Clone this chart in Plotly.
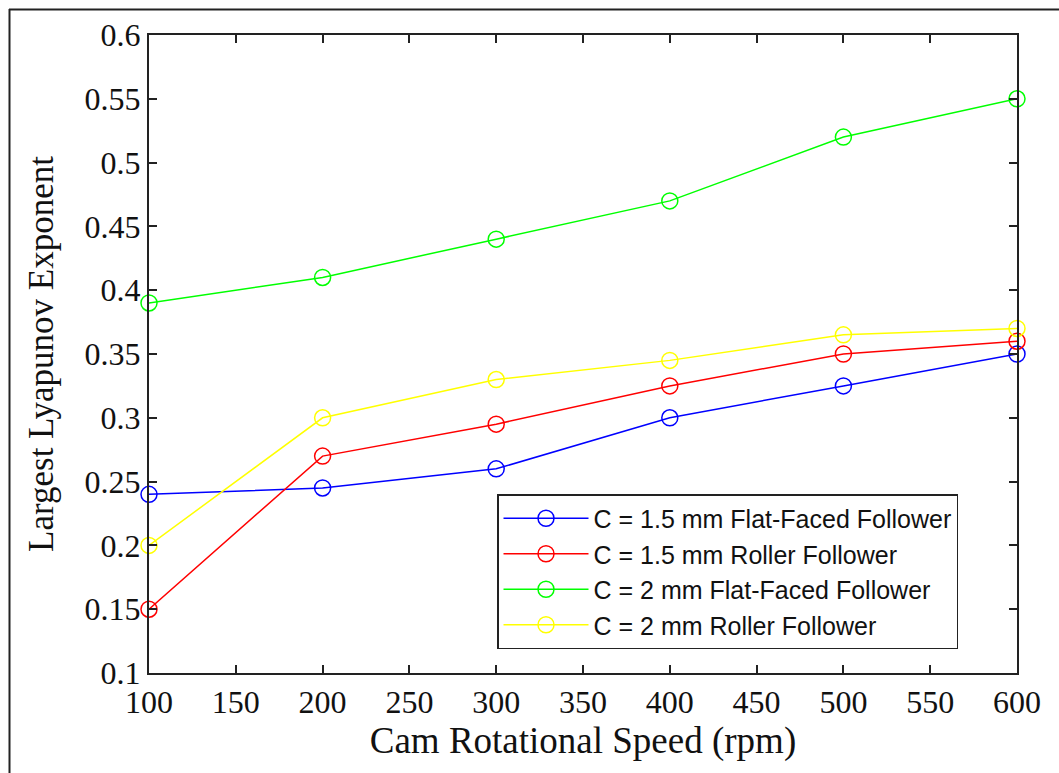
import plotly.graph_objects as go

# Cam speed (rpm) and largest Lyapunov exponent for each cam/follower setup
speed_rpm = [100, 200, 300, 400, 500, 600]

lle_c15_flat = [0.24, 0.245, 0.26, 0.30, 0.325, 0.35]
lle_c15_roller = [0.15, 0.27, 0.295, 0.325, 0.35, 0.36]
lle_c2_flat = [0.39, 0.41, 0.44, 0.47, 0.52, 0.55]
lle_c2_roller = [0.20, 0.30, 0.33, 0.345, 0.365, 0.37]

series_names = [
    "C = 1.5 mm Flat-Faced Follower",
    "C = 1.5 mm Roller Follower",
    "C = 2 mm Flat-Faced Follower",
    "C = 2 mm Roller Follower",
]
series_values = [lle_c15_flat, lle_c15_roller, lle_c2_flat, lle_c2_roller]
series_colors = ["#0000ff", "#ff0000", "#00ff00", "#ffff00"]

x_ticks = [100, 150, 200, 250, 300, 350, 400, 450, 500, 550, 600]
y_ticks = [0.1, 0.15, 0.2, 0.25, 0.3, 0.35, 0.4, 0.45, 0.5, 0.55, 0.6]
y_tick_text = ["0.1", "0.15", "0.2", "0.25", "0.3", "0.35", "0.4", "0.45", "0.5", "0.55", "0.6"]

W, H = 1059, 773
ML, MR, MT, MB = 149, 42, 35, 100
PW, PH = W - ML - MR, H - MT - MB

fig = go.Figure()
for i, (name, vals, col) in enumerate(zip(series_names, series_values, series_colors)):
    fig.add_trace(go.Scatter(
        x=speed_rpm, y=vals, name=name, mode="lines+markers",
        legendgroup=f"g{i}",
        line=dict(color=col, width=1.5),
        marker=dict(symbol="circle-open", size=16, color=col, line=dict(width=1.5, color=col)),
        cliponaxis=False,
    ))

serif = "Liberation Serif, Times New Roman, serif"
axis_common = dict(
    showline=True, linecolor="#222222", linewidth=2, mirror="ticks",
    ticks="inside", ticklen=8, tickwidth=1.5, tickcolor="#222222",
    showgrid=False, zeroline=False,
    tickfont=dict(family=serif, size=32, color="#111111"),
)

fig.update_xaxes(
    range=[100, 600], tickvals=x_ticks, ticktext=[str(v) for v in x_ticks],
    title=dict(text="Cam Rotational Speed (rpm)", font=dict(family=serif, size=37, color="#111111"), standoff=8),
    **axis_common,
)
fig.update_yaxes(
    range=[0.1, 0.6], tickvals=y_ticks, ticktext=y_tick_text,
    title=dict(text="Largest Lyapunov Exponent", font=dict(family=serif, size=35, color="#111111"), standoff=20),
    **axis_common,
)

def px_x(px):
    return (px - ML) / PW

def px_y(py):
    return (H - MB - py) / PH

# outer frame lines along the left and top
fig.add_shape(type="line", xref="paper", yref="paper",
              x0=px_x(9.5), x1=px_x(9.5), y0=px_y(9), y1=px_y(H + 5),
              line=dict(color="#222222", width=2))
fig.add_shape(type="line", xref="paper", yref="paper",
              x0=px_x(9), x1=px_x(W + 5), y0=px_y(9.5), y1=px_y(9.5),
              line=dict(color="#222222", width=2))

fig.update_layout(
    width=W, height=H,
    margin=dict(l=ML, r=MR, t=MT, b=MB, autoexpand=False),
    paper_bgcolor="white", plot_bgcolor="white",
    showlegend=True,
    legend=dict(
        x=px_x(497), y=px_y(494), xanchor="left", yanchor="top",
        bgcolor="white", bordercolor="#222222", borderwidth=1.5,
        font=dict(family="Liberation Sans, Arial, sans-serif", size=25, color="#111111"),
        itemwidth=85, tracegroupgap=0,
    ),
)

fig.write_html("out.html")
